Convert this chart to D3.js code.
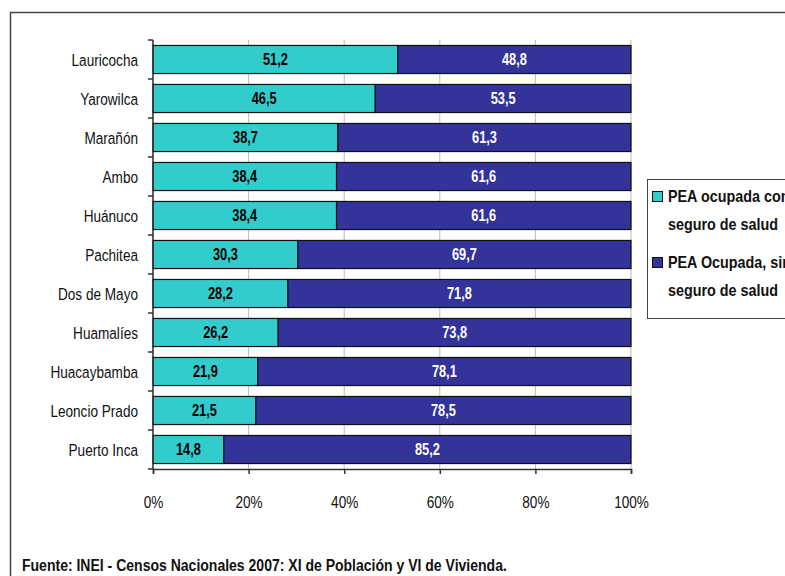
<!DOCTYPE html>
<html>
<head>
<meta charset="utf-8">
<script src="https://cdn.jsdelivr.net/npm/d3@7"></script>
<style>
  body { margin: 0; background: #fff; }
  svg { font-family: "Liberation Sans", Arial, sans-serif; }
</style>
</head>
<body>
<svg id="chart" width="785" height="576"></svg>
<script>
// datos
var provincias = ["Lauricocha", "Yarowilca", "Marañón", "Ambo", "Huánuco", "Pachitea",
                  "Dos de Mayo", "Huamalíes", "Huacaybamba", "Leoncio Prado", "Puerto Inca"];
var conSeguro = [51.2, 46.5, 38.7, 38.4, 38.4, 30.3, 28.2, 26.2, 21.9, 21.5, 14.8];
var sinSeguro = [48.8, 53.5, 61.3, 61.6, 61.6, 69.7, 71.8, 73.8, 78.1, 78.5, 85.2];
var ticks = [0, 20, 40, 60, 80, 100];
var leyenda = [["PEA ocupada con", "seguro de salud"], ["PEA Ocupada, sin", "seguro de salud"]];
var colores = ["#33CCCC", "#333399"];
var fuente = "Fuente: INEI - Censos Nacionales 2007: XI de Población y VI de Vivienda.";

// letra estrecha (no hay Arial Narrow): se comprime en horizontal
function narrow(k) {
  return function(sel) {
    sel.each(function() {
      var t = d3.select(this);
      var x = +t.attr("x") || 0;
      t.attr("x", x / k).attr("transform", "scale(" + k + ",1)");
    });
  };
}

var svg = d3.select("#chart");
var margin = {left: 153, right: 154, top: 40, bottom: 107};
var width = 785 - margin.left - margin.right,
    height = 576 - margin.top - margin.bottom;

// marco exterior
svg.append("path")
   .attr("d", "M10.5,576 V12.5 H785")
   .attr("fill", "none").attr("stroke", "#444").attr("stroke-width", 1.5);

var x = d3.scaleLinear().domain([0, 100]).range([0, width]);
var y = d3.scaleBand().domain(provincias).range([0, height]).paddingInner(0.28).paddingOuter(0.14);

var g = svg.append("g").attr("transform", "translate(" + margin.left + "," + margin.top + ")");

// líneas de cuadrícula
g.append("g").selectAll("line").data(ticks).enter().append("line")
  .attr("x1", function(d) { return x(d); }).attr("x2", function(d) { return x(d); })
  .attr("y1", 0).attr("y2", height)
  .attr("stroke", "#bbb").attr("stroke-width", 1);

var rows = provincias.map(function(p, i) {
  return {name: p, a: conSeguro[i], b: sinSeguro[i]};
});

var row = g.selectAll(".row").data(rows).enter().append("g")
  .attr("transform", function(d) { return "translate(0," + y(d.name) + ")"; });

row.append("rect")
  .attr("x", x(0)).attr("y", 0)
  .attr("width", function(d) { return x(d.a); })
  .attr("height", y.bandwidth())
  .attr("fill", colores[0]).attr("stroke", "#111").attr("stroke-width", 1.2);

row.append("rect")
  .attr("x", function(d) { return x(d.a); }).attr("y", 0)
  .attr("width", function(d) { return x(d.a + d.b) - x(d.a); })
  .attr("height", y.bandwidth())
  .attr("fill", colores[1]).attr("stroke", "#111").attr("stroke-width", 1.2);

var fmt = function(v) { return v.toFixed(1).replace(".", ","); };

row.append("text")
  .attr("x", function(d) { return x(d.a / 2); })
  .attr("y", y.bandwidth() / 2).attr("dy", "0.36em")
  .attr("text-anchor", "middle").attr("font-weight", "bold").attr("font-size", 16)
  .attr("fill", "#000")
  .text(function(d) { return fmt(d.a); })
  .call(narrow(0.8));

row.append("text")
  .attr("x", function(d) { return x(d.a + d.b / 2); })
  .attr("y", y.bandwidth() / 2).attr("dy", "0.36em")
  .attr("text-anchor", "middle").attr("font-weight", "bold").attr("font-size", 16)
  .attr("fill", "#fff")
  .text(function(d) { return fmt(d.b); })
  .call(narrow(0.8));

// eje y
var yAxis = g.append("g");
yAxis.append("line").attr("x1", 0).attr("x2", 0).attr("y1", 0).attr("y2", height)
  .attr("stroke", "#333").attr("stroke-width", 1.5);
var bounds = provincias.map(function(p) { return y(p) - y.step() * y.paddingInner() / 2; });
bounds.push(height);
yAxis.selectAll(".tk").data(bounds).enter().append("line")
  .attr("x1", -5).attr("x2", 0)
  .attr("y1", function(d) { return d; }).attr("y2", function(d) { return d; })
  .attr("stroke", "#333").attr("stroke-width", 1.5);
yAxis.selectAll("text").data(provincias).enter().append("text")
  .attr("x", -15).attr("y", function(d) { return y(d) + y.bandwidth() / 2; })
  .attr("dy", "0.36em").attr("text-anchor", "end").attr("font-size", 17).attr("fill", "#111")
  .text(function(d) { return d; })
  .call(narrow(0.8));

// eje x
var xAxis = g.append("g").attr("transform", "translate(0," + height + ")")
  .call(d3.axisBottom(x).tickValues(ticks).tickSize(5).tickFormat(function(d) { return d + "%"; }));
xAxis.select(".domain").attr("stroke", "#333").attr("stroke-width", 1.5);
xAxis.selectAll(".tick line").attr("stroke", "#333").attr("stroke-width", 1.5);
xAxis.selectAll(".tick text").attr("font-size", 17).attr("fill", "#111")
  .attr("font-family", "Liberation Sans, Arial, sans-serif").attr("y", 27)
  .call(narrow(0.8));

// leyenda
var leg = svg.append("g").attr("transform", "translate(647,179)");
leg.append("rect").attr("x", 0.5).attr("y", 0.5).attr("width", 150).attr("height", 139)
  .attr("fill", "#fff").attr("stroke", "#444").attr("stroke-width", 1);
leyenda.forEach(function(l, i) {
  var oy = 11 + i * 66;
  leg.append("rect").attr("x", 5.5).attr("y", oy + 1.5).attr("width", 10).attr("height", 10)
    .attr("fill", colores[i]).attr("stroke", "#111").attr("stroke-width", 1);
  leg.append("text").attr("x", 21).attr("y", oy + 12).attr("font-size", 16.5).attr("font-weight", "bold")
    .attr("fill", "#111").text(l[0]).call(narrow(0.87));
  leg.append("text").attr("x", 21).attr("y", oy + 40).attr("font-size", 16.5).attr("font-weight", "bold")
    .attr("fill", "#111").text(l[1]).call(narrow(0.87));
});

// fuente
svg.append("text").attr("x", 22).attr("y", 571).attr("font-size", 16.5).attr("font-weight", "bold")
  .attr("fill", "#111").text(fuente).call(narrow(0.85));
</script>
</body>
</html>
